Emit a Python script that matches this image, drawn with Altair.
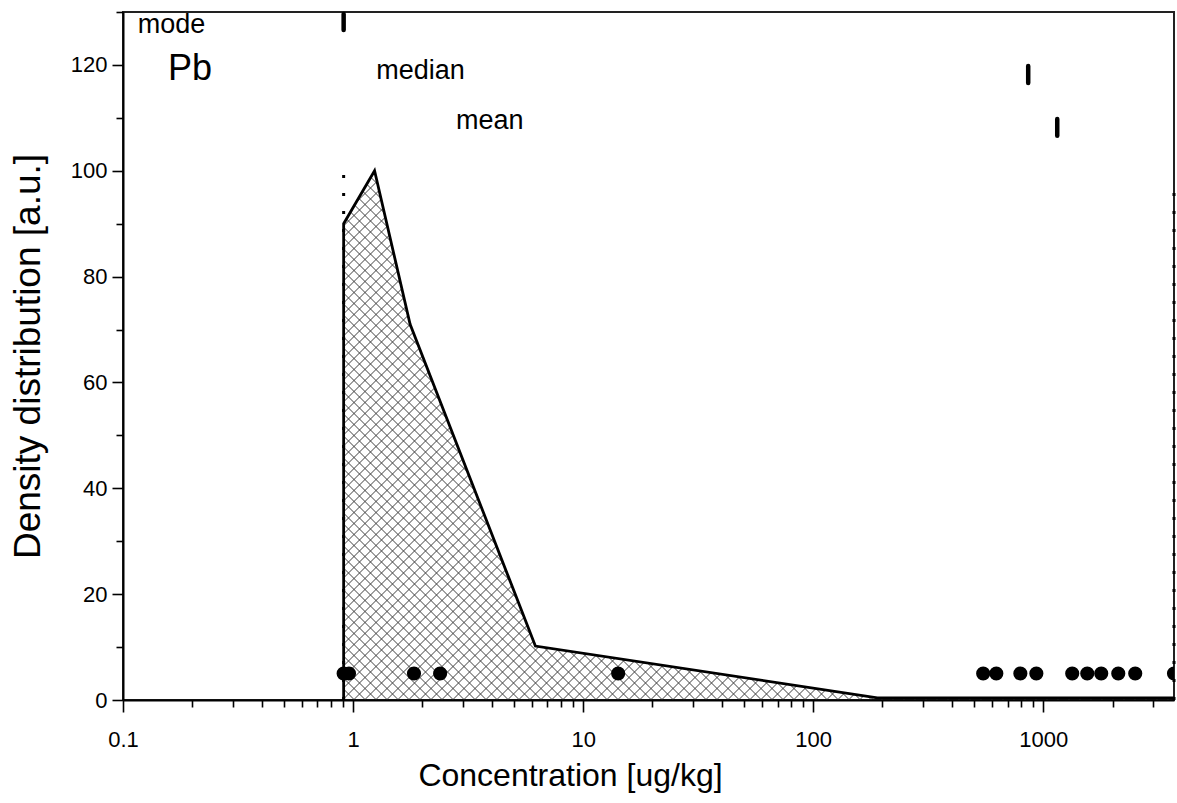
import math

import altair as alt
import pandas as pd

# --- data -----------------------------------------------------------------
# vertices of the density (frequency) polygon
curve_x = [0.91, 0.91, 1.24, 1.77, 6.2, 190, 3700]
curve_y = [0, 90, 100, 71, 10.2, 0.4, 0.4]

# individual measurements, drawn as a row of dots
sample_x = [0.91, 0.96, 1.84, 2.39, 14.2, 548, 625, 795, 933,
            1336, 1553, 1786, 2118, 2510, 3700]
sample_level = 5

# summary statistics markers
stat_names = ["mode", "median", "mean"]
stat_x = [0.91, 860, 1150]
stat_lo = [126.6, 116.6, 106.6]
stat_hi = [129.6, 119.8, 109.8]

# dotted guide lines (lowest / highest value)
guide_x = [0.91, 3700]
guide_top = [100, 98]

# free text annotations
label_text = ["mode", "Pb", "median", "mean"]
label_x = [0.116, 0.157, 1.26, 2.8]
label_y = [126.0, 117.2, 117.4, 107.9]
label_size = [27, 36, 27, 27]

# --- layout ---------------------------------------------------------------
X_MIN, X_MAX = 0.1, 3700
Y_MAX = 130
W, H = 1051, 688
FONT = "Liberation Sans"

lx0, lx1 = math.log10(X_MIN), math.log10(X_MAX)


def to_px(xv, yv):
    return (W * (math.log10(xv) - lx0) / (lx1 - lx0), H * (1 - yv / Y_MAX))


def to_data(px, py):
    return (10 ** (lx0 + px / W * (lx1 - lx0)), Y_MAX * (1 - py / H))


# --- cross-hatch fill: 45 degree lines clipped to the polygon --------------
poly = [to_px(x, y) for x, y in zip(curve_x, curve_y)] + [to_px(X_MAX, 0)]
HATCH_STEP = 11.0
hatch = []
for sign in (1, -1):
    vals = [p[0] - sign * p[1] for p in poly]
    c = math.floor(min(vals) / HATCH_STEP) * HATCH_STEP + HATCH_STEP / 2
    while c < max(vals):
        xs = []
        for i in range(len(poly)):
            p, q = poly[i], poly[(i + 1) % len(poly)]
            sp = p[0] - sign * p[1] - c
            sq = q[0] - sign * q[1] - c
            if (sp > 0) != (sq > 0):
                t = sp / (sp - sq)
                xs.append(p[0] + t * (q[0] - p[0]))
        xs.sort()
        for a, b in zip(xs[0::2], xs[1::2]):
            xa, ya = to_data(a, sign * (a - c))
            xb, yb = to_data(b, sign * (b - c))
            hatch.append({"hx": xa, "hy": ya, "hx2": xb, "hy2": yb})
        c += HATCH_STEP
hatch_df = pd.DataFrame(hatch)

curve_df = pd.DataFrame({"x": curve_x, "y": curve_y, "i": range(len(curve_x))})
sample_df = pd.DataFrame({"x": sample_x, "y": [sample_level] * len(sample_x)})
stat_df = pd.DataFrame({"name": stat_names, "x": stat_x, "lo": stat_lo, "hi": stat_hi})
guide_df = pd.DataFrame({"x": guide_x, "lo": [0] * len(guide_x), "hi": guide_top})
label_df = pd.DataFrame({"text": label_text, "x": label_x, "y": label_y, "size": label_size})

# --- axes -----------------------------------------------------------------
x_major = "abs(log(datum.value) / LN10 - round(log(datum.value) / LN10)) < 0.001"
x_ticks = [round(m * 10 ** e, 6) for e in range(-1, 4) for m in range(1, 10)
           if m * 10 ** e <= X_MAX]
y_major = "datum.value % 20 == 0"
y_ticks = list(range(0, Y_MAX + 1, 10))

common_axis = dict(
    grid=False, zindex=1,
    domainColor="black", domainWidth=2,
    tickColor="black", tickWidth=1.6,
    labelFont=FONT, labelFontSize=22, labelColor="black",
    titleFont=FONT, titleFontWeight="normal", titleColor="black",
    labelOverlap=False, titleBaseline="alphabetic",
)

x_axis = alt.Axis(
    title="Concentration [ug/kg]",
    values=x_ticks,
    labelExpr=f"{x_major} ? format(datum.value, '~g') : ''",
    tickSize={"condition": {"test": x_major, "value": 12}, "value": 7},
    labelPadding=17, labelFlush=False, titleY=85, titleX=447,
    titleFontSize=32,
    **common_axis,
)
y_axis = alt.Axis(
    title="Density distribution [a.u.]",
    values=y_ticks,
    labelExpr=f"{y_major} ? datum.label : ''",
    tickSize={"condition": {"test": y_major, "value": 11}, "value": 7},
    labelPadding=5, titleX=-84, titleFontSize=37,
    **common_axis,
)

x_scale = alt.Scale(type="log", domain=[X_MIN, X_MAX], nice=False)
y_scale = alt.Scale(domain=[0, Y_MAX], nice=False)


def X(field):
    return alt.X(field, type="quantitative", scale=x_scale, axis=x_axis)


def Y(field):
    return alt.Y(field, type="quantitative", scale=y_scale, axis=y_axis)


# --- layers -----------------------------------------------------------------
hatch_layer = alt.Chart(hatch_df).mark_rule(color="#404040", strokeWidth=1.0).encode(
    x=X("hx"), x2="hx2", y=Y("hy"), y2="hy2"
)

guides = alt.Chart(guide_df).mark_rule(
    color="black", strokeWidth=3, strokeDash=[3, 15]
).encode(x=X("x"), y=Y("lo"), y2="hi")

outline = alt.Chart(curve_df).mark_line(
    color="black", strokeWidth=2.8, strokeJoin="miter"
).encode(x=X("x"), y=Y("y"), order="i:Q")

dots = alt.Chart(sample_df).mark_circle(
    color="black", opacity=1, size=200, clip=True
).encode(x=X("x"), y=Y("y"))

stats = alt.Chart(stat_df).mark_rule(
    color="black", strokeWidth=4.5, strokeCap="round"
).encode(x=X("x"), y=Y("lo"), y2="hi")

labels = alt.Chart(label_df).mark_text(
    align="left", baseline="alphabetic", font=FONT, color="black"
).encode(
    x=X("x"), y=Y("y"), text="text:N",
    size=alt.Size("size:Q", scale=None, legend=None),
)

chart = (
    alt.layer(hatch_layer, guides, outline, dots, stats, labels)
    .properties(
        width=W, height=H,
        padding={"left": 123, "top": 12, "right": 3, "bottom": 103},
        autosize=alt.AutoSizeParams(type="none"),
        background="white",
    )
    .configure_view(stroke="#222222", strokeWidth=2)
)

chart.save("out.html", embed_options={"renderer": "svg", "actions": False})
